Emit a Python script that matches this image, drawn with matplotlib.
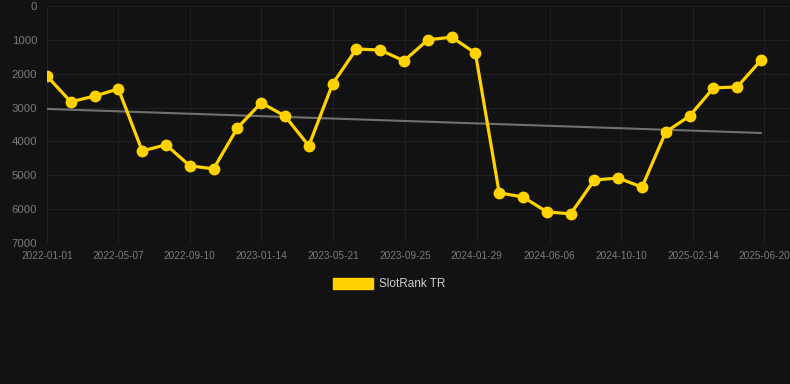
import numpy as np
import pandas as pd
import matplotlib
matplotlib.use('Agg')
import matplotlib.pyplot as plt
import matplotlib.dates as mdates
from matplotlib.patches import Patch

# Rank values, one sample every 42 days
start_date = '2022-01-01'
step_days = 42
ranks = [2070, 2830, 2660, 2450, 4280, 4100, 4720, 4810, 3600, 2860,
         3250, 4130, 2300, 1270, 1300, 1620, 1000, 920, 1390, 5520,
         5640, 6080, 6140, 5140, 5080, 5350, 3720, 3250, 2420, 2390, 1600]
trend_start, trend_end = 3040, 3750
tick_labels = ['2022-01-01', '2022-05-07', '2022-09-10', '2023-01-14', '2023-05-21',
               '2023-09-25', '2024-01-29', '2024-06-06', '2024-10-10', '2025-02-14',
               '2025-06-20']
y_ticks = [0, 1000, 2000, 3000, 4000, 5000, 6000, 7000]

dates = pd.date_range(start_date, periods=len(ranks), freq=f'{step_days}D')

bg = '#121212'
grid_c = '#202020'
line_c = '#FFD200'

plt.rcParams['font.family'] = ['Liberation Sans', 'DejaVu Sans']

fig = plt.figure(figsize=(7.9, 3.84), dpi=100, facecolor=bg)
ax = fig.add_axes([47 / 790, 1 - 243 / 384, 743 / 790, 237 / 384])
ax.set_facecolor(bg)

ax.plot([dates[0], dates[-1]], [trend_start, trend_end], color='#707070', lw=1.5, zorder=2)
ax.plot(dates, ranks, color=line_c, lw=2.3, marker='o', ms=7.5,
        markerfacecolor=line_c, markeredgecolor=line_c, zorder=3)

ax.set_ylim(7000, 0)
ax.set_yticks(y_ticks)
ax.set_yticklabels([str(v) for v in y_ticks])

px_days = (dates[-1] - dates[0]).days / 714
ax.set_xlim(dates[0], dates[0] + pd.Timedelta(days=743 * px_days))
ax.set_xticks(pd.to_datetime(tick_labels))
ax.set_xticklabels(tick_labels)

ax.grid(True, color=grid_c, lw=0.8)
ax.set_axisbelow(True)
for s in ax.spines.values():
    s.set_visible(False)
ax.tick_params(axis='both', length=0, colors='#7a7a7a')
ax.tick_params(axis='y', labelsize=8.2, pad=7)
ax.tick_params(axis='x', labelsize=7.2, pad=6)

handle = Patch(facecolor=line_c, edgecolor=line_c, label='SlotRank TR')
fig.legend(handles=[handle], loc='center', bbox_to_anchor=(389 / 790, 1 - 284 / 384),
           frameon=False, fontsize=8.5, labelcolor='#d0d0d0',
           handlelength=3.4, handleheight=1.1, handletextpad=0.5)

fig.savefig('out.png', dpi=100, facecolor=bg)
